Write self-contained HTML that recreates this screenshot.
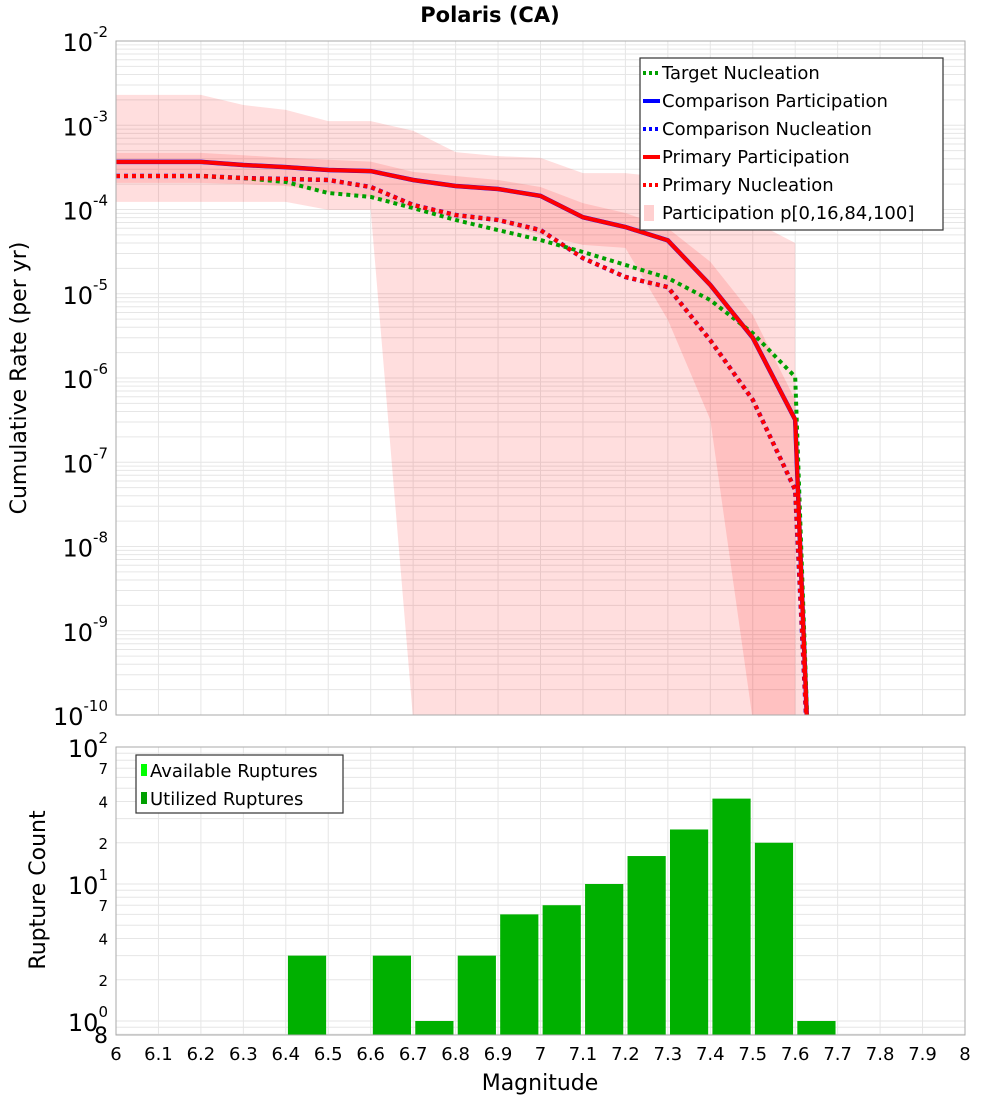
<!DOCTYPE html>
<html><head><meta charset="utf-8"><style>
body{margin:0;background:#fff;font-family:"Liberation Sans","DejaVu Sans",sans-serif}
svg{display:block}
</style></head><body>
<svg id="c" width="1000" height="1100" xmlns="http://www.w3.org/2000/svg" font-family="DejaVu Sans, Liberation Sans, sans-serif"></svg>
<script>
const mags=[6.0,6.1,6.2,6.3,6.4,6.5,6.6,6.7,6.8,6.9,7.0,7.1,7.2,7.3,7.4,7.5,7.6];
const p100=[2.29e-3,2.29e-3,2.29e-3,1.74e-3,1.52e-3,1.12e-3,1.12e-3,8.6e-4,4.8e-4,4.3e-4,4.1e-4,2.7e-4,2.7e-4,2.4e-4,1.33e-4,7.3e-5,4.0e-5];
const p0=[1.23e-4,1.23e-4,1.23e-4,1.23e-4,1.23e-4,9.9e-5,9.9e-5,1e-17,1e-17,1e-17,1e-17,1e-17,1e-17,1e-17,1e-17,1e-17,1e-17];
const p84=[4.7e-4,4.7e-4,4.7e-4,4.4e-4,4.1e-4,3.9e-4,3.7e-4,2.8e-4,2.5e-4,2.24e-4,1.85e-4,1.19e-4,9.1e-5,6.0e-5,2.4e-5,5.6e-6,5.5e-7];
const p16=[2.07e-4,2.07e-4,2.07e-4,2.0e-4,1.9e-4,1.6e-4,1.41e-4,1.04e-4,7.9e-5,7.1e-5,5.0e-5,3.8e-5,3.5e-5,4.9e-6,3.2e-7,3e-17,3e-17];
const primaryPart=[3.67e-4,3.67e-4,3.67e-4,3.37e-4,3.19e-4,2.94e-4,2.86e-4,2.24e-4,1.9e-4,1.75e-4,1.45e-4,8.1e-5,6.2e-5,4.3e-5,1.27e-5,3.0e-6,3.2e-7];
const primaryNucl=[2.5e-4,2.5e-4,2.5e-4,2.36e-4,2.3e-4,2.24e-4,1.85e-4,1.13e-4,8.6e-5,7.5e-5,5.7e-5,2.65e-5,1.58e-5,1.2e-5,2.8e-6,5.5e-7,4.7e-8];
const targetNucl=[2.5e-4,2.5e-4,2.5e-4,2.36e-4,2.12e-4,1.57e-4,1.41e-4,1.04e-4,7.5e-5,5.7e-5,4.35e-5,3.13e-5,2.2e-5,1.54e-5,8.4e-6,3.4e-6,1.03e-6];
const dropMag=7.635, dropVal=1e-11;
const barMags=[6.45,6.65,6.75,6.85,6.95,7.05,7.15,7.25,7.35,7.45,7.55,7.65];
const barCounts=[3,3,1,3,6,7,10,16,25,42,20,1];
const xTicks=["6","6.1","6.2","6.3","6.4","6.5","6.6","6.7","6.8","6.9","7","7.1","7.2","7.3","7.4","7.5","7.6","7.7","7.8","7.9","8"];

const svg=document.getElementById('c');const NS='http://www.w3.org/2000/svg';
function el(t,a,p){const e=document.createElementNS(NS,t);for(const k in a)e.setAttribute(k,a[k]);(p||svg).appendChild(e);return e;}
const L=116,R=965,T1=41,B1=715,T2=747,B2=1035;
const X=m=>L+(m-6)/2*(R-L);
const Y1=v=>{let l=Math.log10(Math.max(v,1e-30));return T1+(-2-l)*(B1-T1)/8;};
const Y2=v=>T2+(2-Math.log10(v))*137;
el('defs',{}).innerHTML='<clipPath id="cp1"><rect x="116" y="41" width="849" height="674"/></clipPath><clipPath id="cp2"><rect x="116" y="747" width="849" height="288"/></clipPath>';
// title
let t=el('text',{x:490,y:22,'text-anchor':'middle','font-size':21,'font-weight':'bold'});t.textContent='Polaris (CA)';

// grids top
const g1=el('g',{});
for(let i=0;i<=20;i++){const x=X(6+i*0.1);el('line',{x1:x,x2:x,y1:T1,y2:B1,stroke:'#e6e6e6'},g1);}
for(let d=-10;d<-2;d++){for(let k=1;k<10;k++){const y=Y1(k*Math.pow(10,d));el('line',{x1:L,x2:R,y1:y,y2:y,stroke:'#e6e6e6'},g1);}}
// bands
function bandPath(up,lo){let s='';mags.forEach((m,i)=>{s+=(i?'L':'M')+X(m)+','+Y1(up[i]);});
for(let i=mags.length-1;i>=0;i--)s+='L'+X(mags[i])+','+Y1(lo[i]);return s+'Z';}
const gb=el('g',{'clip-path':'url(#cp1)'});
let b=el('path',{d:bandPath(p100,p0).replace(/Z$/,'')+'',fill:'rgb(255,0,0)','fill-opacity':0.13},gb);
b.setAttribute('d',(()=>{let s='';mags.forEach((m,i)=>{s+=(i?'L':'M')+X(m)+','+Y1(p100[i]);});s+='L'+X(7.6)+','+(B1+5);for(let i=mags.length-1;i>=0;i--)s+='L'+X(mags[i])+','+Math.min(Y1(p0[i]),B1+5);return s+'Z';})());

let b2=el('path',{fill:'rgb(255,0,0)','fill-opacity':0.13},gb);
b2.setAttribute('d',(()=>{let s='';mags.forEach((m,i)=>{s+=(i?'L':'M')+X(m)+','+Y1(p84[i]);});s+='L'+X(dropMag)+','+Y1(dropVal);for(let i=mags.length-1;i>=0;i--)s+='L'+X(mags[i])+','+Math.min(Y1(p16[i]),B1+5);return s+'Z';})());

function line(vals,col,dash,name,w){let s='';mags.forEach((m,i)=>{s+=(i?'L':'M')+X(m).toFixed(1)+','+Y1(vals[i]).toFixed(1);});s+='L'+X(dropMag)+','+Y1(dropVal);
const p=el('path',{d:s,fill:'none',stroke:col,'stroke-width':w||4,'stroke-dasharray':dash?'4,4':'none'},gb);
}
line(primaryPart,'#0000ff',false,'comparison-participation-line',4.5);
line(primaryNucl,'#0000ff',true,'comparison-nucleation-line',4.5);
line(targetNucl,'#00a000',true,'target-nucleation-line');
line(primaryNucl,'#ff0000',true,'primary-nucleation-line');
line(primaryPart,'#ff0000',false,'primary-participation-line');
let f1=el('rect',{x:L,y:T1,width:R-L,height:B1-T1,fill:'none',stroke:'#aaa'});
// top y labels
for(let d=-2;d>=-10;d--){const y=Y1(Math.pow(10,d));const tt=el('text',{x:108,y:y+10,'text-anchor':'end','font-size':24});
tt.innerHTML='10<tspan dy="-14" font-size="15">'+d+'</tspan>';}
let yl=el('text',{x:0,y:0,transform:'translate(26,378) rotate(-90)','text-anchor':'middle','font-size':22});yl.textContent='Cumulative Rate (per yr)';

// legend top
const lg=el('g',{});
el('rect',{x:640,y:58,width:303,height:172,fill:'#fff',stroke:'#333','stroke-width':1.2},lg);
const lent=[['Target Nucleation','#00a000',1,' '],['Comparison Participation','#0000ff',0,''],['Comparison Nucleation','#0000ff',1,' '],['Primary Participation','#ff0000',0,''],['Primary Nucleation','#ff0000',1,' '],['Participation p[0,16,84,100]','band',0,' ']];
lent.forEach((e,i)=>{const y=73+i*28;
if(e[1]==='band')el('rect',{x:644,y:y-8,width:10,height:16,fill:'#ffd0d0'},lg);
else el('line',{x1:643,x2:660,y1:y,y2:y,stroke:e[1],'stroke-width':4,'stroke-dasharray':e[2]?'3,3':'none'},lg);
const tx=el('text',{x:662,y:y+6,'font-size':18},lg);tx.textContent=e[3]+e[0];tx.setAttribute('xml:space','preserve');});
// bottom grid
const g2=el('g',{});
for(let i=0;i<=20;i++){const x=X(6+i*0.1);el('line',{x1:x,x2:x,y1:T2,y2:B2,stroke:'#e6e6e6'},g2);}
[0.8,0.9,1,2,3,4,5,6,7,8,9,10,20,30,40,50,60,70,80,90,100].forEach(v=>{const y=Y2(v);el('line',{x1:L,x2:R,y1:y,y2:y,stroke:'#e6e6e6'},g2);});
const gbar=el('g',{'clip-path':'url(#cp2)'});
barMags.forEach((m,i)=>{const r=el('rect',{x:X(m-0.045),width:X(m+0.045)-X(m-0.045),y:Y2(barCounts[i]),height:B2-Y2(barCounts[i]),fill:'#00b000'},gbar);
});
let f2=el('rect',{x:L,y:T2,width:R-L,height:B2-T2,fill:'none',stroke:'#aaa'});
[[100,'2'],[10,'1'],[1,'0']].forEach(a=>{const y=Y2(a[0]);const tt=el('text',{x:108,y:y+10,'text-anchor':'end','font-size':24});tt.innerHTML='10<tspan dy="-14" font-size="15">'+a[1]+'</tspan>';
});
[70,40,20,7,4,2].forEach(v=>{const tt=el('text',{x:108,y:Y2(v)+6,'text-anchor':'end','font-size':15});tt.textContent=String(v).charAt(0);});
let e8=el('text',{x:108,y:1043,'text-anchor':'end','font-size':22});e8.textContent='8';
let yl2=el('text',{x:0,y:0,transform:'translate(45,890) rotate(-90)','text-anchor':'middle','font-size':22});yl2.textContent='Rupture Count';

xTicks.forEach((s,i)=>{const tt=el('text',{x:X(6+i*0.1),y:1060,'text-anchor':'middle','font-size':18});tt.textContent=s;});
let xl=el('text',{x:540,y:1090,'text-anchor':'middle','font-size':22});xl.textContent='Magnitude';
const lg2=el('g',{});
el('rect',{x:136,y:755,width:207,height:58,fill:'#fff',stroke:'#333','stroke-width':1.2},lg2);
[['Available Ruptures','#00ff00'],['Utilized Ruptures','#00a000']].forEach((e,i)=>{const y=770+i*28;el('rect',{x:141,y:y-6,width:6,height:12,fill:e[1]},lg2);
const tx=el('text',{x:150,y:y+7,'font-size':18},lg2);tx.textContent=e[0];});
</script>
</body></html>
